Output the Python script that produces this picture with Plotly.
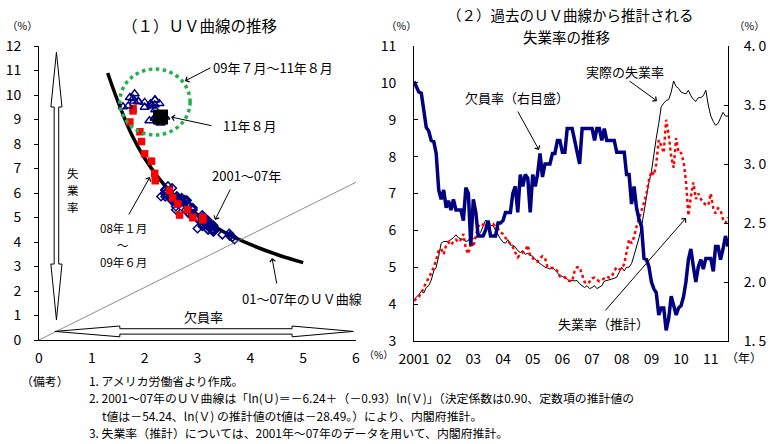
import plotly.graph_objects as go
import pandas as pd

W, H = 770, 444
JP = "Noto Sans CJK JP"
NUM = "Liberation Sans Narrow, Noto Sans CJK JP"

# ---------------- data (monthly, 2001-01 .. 2011-08) ----------------
months = pd.date_range("2001-01-01", periods=128, freq="MS")

actual_u = [
    4.1, 4.2, 4.25, 4.35, 4.3, 4.45, 4.5, 4.65, 4.9, 5.0, 5.3, 5.65,
    5.7, 5.7, 5.7, 5.75, 5.8, 5.88, 5.8, 5.77, 5.75, 5.7, 5.72, 5.86,
    5.77, 5.8, 5.85, 5.95, 6.1, 6.28, 6.2, 6.14, 6.12, 6.0, 5.85, 5.77,
    5.68, 5.65, 5.75, 5.6, 5.6, 5.55, 5.45, 5.4, 5.45, 5.35, 5.38, 5.32,
    5.3, 5.22, 5.15, 5.1, 5.05, 5.0, 4.98, 4.95, 5.0, 4.92, 4.85, 4.78,
    4.75, 4.72, 4.68, 4.62, 4.64, 4.63, 4.64, 4.55, 4.5, 4.45, 4.5, 4.42,
    4.45, 4.5, 4.42, 4.45, 4.5, 4.62, 4.64, 4.64, 4.68, 4.7, 4.73, 4.85,
    5.0, 4.9, 5.0, 5.0, 5.1, 5.32, 5.55, 5.8, 6.1, 6.5, 6.8, 7.3,
    7.6, 8.1, 8.5, 8.9, 9.35, 9.45, 9.52, 9.55, 9.75, 10.05, 9.9, 9.85,
    9.75, 9.72, 9.7, 9.8, 9.65, 9.55, 9.5, 9.6, 9.6, 9.65, 9.8, 9.4,
    9.1, 8.95, 8.85, 8.9, 9.05, 9.2, 9.1, 9.1,
]

estimated_u = [
    4.09, 4.15, 4.2, 4.3, 4.45, 4.6, 4.7, 4.85, 5.0, 5.2, 5.45, 5.5,
    5.35, 5.6, 5.68, 5.6, 5.7, 5.75, 5.68, 5.75, 5.9, 5.5, 5.36, 5.68,
    5.55, 5.85, 6.1, 6.18, 6.15, 6.15, 6.18, 6.15, 6.18, 6.1, 6.05, 5.95,
    5.9, 5.8, 5.72, 5.65, 5.55, 5.4, 5.27, 5.35, 5.4, 5.45, 5.6, 5.3,
    5.25, 5.18, 5.15, 5.25, 5.3, 5.25, 5.0, 5.0, 4.98, 4.95, 4.9, 4.75,
    4.73, 4.73, 4.64, 4.62, 4.62, 4.9, 5.0, 5.0, 4.8, 4.6, 4.55, 4.6,
    4.7, 4.72, 4.66, 4.62, 4.65, 4.7, 4.75, 4.72, 4.75, 4.9, 5.0, 4.95,
    4.95, 5.09, 5.41, 5.75, 5.65, 5.82, 6.1, 6.3, 6.5, 6.75, 7.0, 7.35,
    7.6, 7.5, 7.8, 8.45, 8.3, 8.1, 9.0, 8.6, 8.0, 7.7, 8.5, 8.1,
    8.1, 7.85, 7.35, 6.4, 6.9, 7.3, 6.85, 7.0, 6.85, 6.75, 6.7, 6.68,
    7.0, 6.6, 6.46, 6.6, 6.55, 6.3, 6.2, 6.35,
]

vacancy = [
    3.70, 3.66, 3.61, 3.60, 3.47, 3.31, 3.28, 3.20, 3.19, 3.09, 2.78, 2.70,
    2.78, 2.63, 2.69, 2.61, 2.70, 2.61, 2.61, 2.61, 2.52, 2.80, 2.75, 2.31,
    2.70, 2.59, 2.39, 2.39, 2.39, 2.44, 2.52, 2.39, 2.39, 2.39, 2.50, 2.50,
    2.52, 2.59, 2.59, 2.59, 2.75, 2.81, 2.59, 2.91, 2.81, 2.91, 2.88, 2.59,
    2.91, 2.81, 2.91, 3.09, 2.89, 3.00, 3.00, 3.00, 3.09, 3.09, 3.20, 3.20,
    3.10, 3.10, 3.30, 3.30, 3.30, 3.20, 3.09, 3.00, 3.30, 3.30, 3.30, 3.30,
    3.30, 3.20, 3.30, 3.30, 3.20, 3.30, 3.20, 3.20, 3.20, 3.20, 3.10, 3.10,
    3.10, 3.10, 2.91, 2.91, 2.66, 2.81, 2.63, 2.53, 2.47, 2.20, 2.19, 2.13,
    2.00, 1.94, 1.91, 1.72, 1.78, 1.78, 1.59, 1.69, 1.88, 1.81, 1.72, 1.78,
    1.80, 1.88, 2.00, 2.19, 2.28, 2.13, 2.00, 2.13, 2.19, 2.11, 2.20, 2.20,
    2.20, 2.09, 2.30, 2.30, 2.19, 2.28, 2.39, 2.30,
]

year_ticks = pd.date_range("2001-01-01", "2011-01-01", freq="YS")
year_labels = ["2001", "02", "03", "04", "05", "06", "07", "08", "09", "10", "11"]

# UV curve 2001-07
uv_curve_v = [1.3, 1.5, 1.75, 2.0, 2.25, 2.5, 2.75, 3.0, 3.5, 4.0, 4.5, 5.0]
uv_curve_u = [10.9, 9.7, 8.4, 7.42, 6.65, 6.03, 5.52, 5.09, 4.41, 3.9, 3.49, 3.16]

left_xticks = [0, 1, 2, 3, 4, 5, 6]
left_yticks = list(range(0, 13))
right_u_ticks = [3, 4, 5, 6, 7, 8, 9, 10, 11]
right_v_ticks = [1.5, 2.0, 2.5, 3.0, 3.5, 4.0]
right_v_labels = ["1. 5", "2. 0", "2. 5", "3. 0", "3. 5", "4. 0"]

# period splits for the scatter
i_2008 = 84   # 2008-01
i_0907 = 102  # 2009-07

NAVY = "#000080"

fig = go.Figure()

# ---------------- left panel ----------------
fig.add_trace(go.Scatter(x=uv_curve_v, y=uv_curve_u, mode="lines",
                         line=dict(color="black", width=3.5, shape="spline"),
                         xaxis="x", yaxis="y", hoverinfo="skip"))
fig.add_trace(go.Scatter(x=vacancy[:i_2008], y=actual_u[:i_2008], mode="markers",
                         marker=dict(symbol="diamond-open", size=6.5, color=NAVY,
                                     line=dict(width=1.5, color=NAVY)),
                         xaxis="x", yaxis="y"))
fig.add_trace(go.Scatter(x=vacancy[i_2008:i_0907], y=actual_u[i_2008:i_0907], mode="markers",
                         marker=dict(symbol="square", size=7.5, color="#FF0000"),
                         xaxis="x", yaxis="y"))
fig.add_trace(go.Scatter(x=vacancy[i_0907:], y=actual_u[i_0907:], mode="markers",
                         marker=dict(symbol="triangle-up-open", size=8, color=NAVY,
                                     line=dict(width=1.4, color=NAVY)),
                         xaxis="x", yaxis="y"))
fig.add_trace(go.Scatter(x=vacancy[-1:], y=actual_u[-1:], mode="markers",
                         marker=dict(symbol="square", size=15, color="black"),
                         xaxis="x", yaxis="y"))

# ---------------- right panel ----------------
fig.add_trace(go.Scatter(x=months, y=actual_u, mode="lines",
                         line=dict(color="black", width=1),
                         xaxis="x2", yaxis="y2"))
fig.add_trace(go.Scatter(x=months, y=estimated_u, mode="lines",
                         line=dict(color="#FF0000", width=2.5, dash="dot"),
                         xaxis="x2", yaxis="y2"))
fig.add_trace(go.Scatter(x=months, y=vacancy, mode="lines",
                         line=dict(color=NAVY, width=3.5),
                         xaxis="x2", yaxis="y3"))


def px(x, y):
    return x / W, 1 - y / H


def dom_x(a, b):
    return [a / W, b / W]


def dom_y(top, bottom):
    return [1 - bottom / H, 1 - top / H]


tickfont = dict(family=NUM, size=14, color="black")

fig.update_layout(
    width=W, height=H, margin=dict(l=0, r=0, t=0, b=0, autoexpand=False),
    paper_bgcolor="white", plot_bgcolor="white", showlegend=False,
    font=dict(family=JP, color="black"),
    xaxis=dict(domain=dom_x(39, 356), range=[0, 6], tickvals=left_xticks,
               showline=True, linecolor="black", linewidth=1, ticks="",
               showgrid=False, zeroline=False, tickfont=tickfont,
               ticklabelstandoff=5, anchor="y", automargin=False),
    yaxis=dict(domain=dom_y(46, 340), range=[0, 12], tickvals=left_yticks,
               showline=True, linecolor="black", linewidth=1, ticks="outside",
               ticklen=4, tickcolor="black", showgrid=False, zeroline=False,
               tickfont=tickfont, ticklabelstandoff=10, anchor="x", automargin=False),
    xaxis2=dict(domain=dom_x(414, 728), type="date",
                range=[months[0], months[-1]], tickvals=list(year_ticks),
                ticktext=year_labels, showline=True, linecolor="black",
                linewidth=1, ticks="", showgrid=False, zeroline=False,
                tickfont=tickfont, ticklabelstandoff=5, anchor="y2", automargin=False),
    yaxis2=dict(domain=dom_y(46, 341), range=[3, 11], tickvals=right_u_ticks,
                showline=True, linecolor="black", linewidth=1, ticks="inside",
                ticklen=4, tickcolor="black", showgrid=False, zeroline=False,
                tickfont=tickfont, ticklabelstandoff=14, anchor="x2", automargin=False),
    yaxis3=dict(domain=dom_y(46, 341), range=[1.5, 4.0], tickvals=right_v_ticks,
                ticktext=right_v_labels, overlaying="y2", side="right",
                showline=True, linecolor="black", linewidth=1, ticks="inside",
                ticklen=4, tickcolor="black", showgrid=False, zeroline=False,
                tickfont=tickfont, ticklabelstandoff=12, anchor="x2", automargin=False),
)

# ---------------- shapes ----------------
shapes = []
# diagonal reference line
shapes.append(dict(type="line", xref="x", yref="y", x0=0, y0=0, x1=6, y1=6.44,
                   line=dict(color="#707070", width=0.8)))
# green dotted circle
shapes.append(dict(type="circle", xref="x", yref="y", x0=1.53, x1=2.86, y0=8.37, y1=11.06,
                   line=dict(color="#22B14C", width=3.5, dash="dot")))
# hollow double arrow (vertical, 失業率)
c, hw, sw = 0.33, 0.105, 0.043
vpath = (f"M {c},11.75 L {c+hw},9.51 L {c+sw},9.51 L {c+sw},3.1 L {c+hw},3.1 "
         f"L {c},0.82 L {c-hw},3.1 L {c-sw},3.1 L {c-sw},9.51 L {c-hw},9.51 Z")
shapes.append(dict(type="path", xref="x", yref="y", path=vpath,
                   line=dict(color="black", width=1), fillcolor="white"))
# hollow double arrow (horizontal, 欠員率)
cy, hh, sh = 0.35, 0.22, 0.11
hpath = (f"M 0.30,{cy} L 1.53,{cy+hh} L 1.53,{cy+sh} L 4.79,{cy+sh} L 4.79,{cy+hh} "
         f"L 5.95,{cy} L 4.79,{cy-hh} L 4.79,{cy-sh} L 1.53,{cy-sh} L 1.53,{cy-hh} Z")
shapes.append(dict(type="path", xref="x", yref="y", path=hpath,
                   line=dict(color="black", width=1), fillcolor="white"))
fig.update_layout(shapes=shapes)

# ---------------- annotations ----------------
ann = []


def text(t, x, y, size=13, anchor="center", family=JP):
    X, Y = px(x, y)
    ann.append(dict(text=t, x=X, y=Y, xref="paper", yref="paper", showarrow=False,
                    xanchor=anchor, yanchor="middle", borderpad=0,
                    font=dict(family=family, size=size, color="black")))


def arrow(x0, y0, x1, y1):
    X, Y = px(x1, y1)
    ann.append(dict(text="", x=X, y=Y, xref="paper", yref="paper", showarrow=True,
                    ax=x0 - x1, ay=y0 - y1, axref="pixel", ayref="pixel",
                    arrowhead=4, arrowsize=1.1, arrowwidth=1, arrowcolor="black"))


# left panel texts
text("（１）ＵＶ曲線の推移", 200, 25, size=15.5)
text("（%）", 22, 26, size=10.5)
text("（%）", 378, 354, size=10)
text("09年７月～11年８月", 273, 67)
text("11年８月", 249, 125)
text("2001～07年", 246, 175)
text("08年１月", 123, 228, size=11.5)
text("～", 123, 245, size=11.5)
text("09年６月", 123, 262, size=11.5)
text("01～07年のＵＶ曲線", 302, 298)
text("欠員率", 204, 316)
for ch, yy in zip(["失", "業", "率"], [173, 190, 207]):
    text(ch, 73, yy, size=11.5)

arrow(212, 67, 185, 81)
arrow(213, 126, 171, 117)
arrow(231, 188, 215, 220)
arrow(128, 216, 150, 177)
arrow(277, 285, 272, 258)

# right panel texts
text("（２）過去のＵＶ曲線から推計される", 570, 15, size=14.5)
text("失業率の推移", 566, 36.5, size=14.5)
text("（%）", 402, 26, size=10.5)
text("（%）", 749, 26, size=10.5)
text("実際の失業率", 625, 71)
text("欠員率（右目盛）", 517, 98)
text("失業率（推計）", 603, 323)
text("（年）", 744, 357, size=12)

arrow(628, 80, 657, 101)
arrow(517, 110, 539, 150)
arrow(604, 312, 686, 218)

# notes
NS = 11.9
text("（備考）", 20, 380, size=NS, anchor="left")
text("1. アメリカ労働省より作成。", 88, 380, size=NS, anchor="left")
text("2. 2001～07年のＵＶ曲線は「ln(Ｕ)＝－6.24＋（－0.93）ln(Ｖ)」（決定係数は0.90、定数項の推計値の",
     88, 397.5, size=NS, anchor="left")
text("t値は－54.24、ln(Ｖ) の推計値のt値は－28.49。）により、内閣府推計。", 101, 415, size=NS, anchor="left")
text("3. 失業率（推計）については、2001年～07年のデータを用いて、内閣府推計。", 88, 432.5, size=NS, anchor="left")

fig.update_layout(annotations=ann)

fig.write_html("out.html")
